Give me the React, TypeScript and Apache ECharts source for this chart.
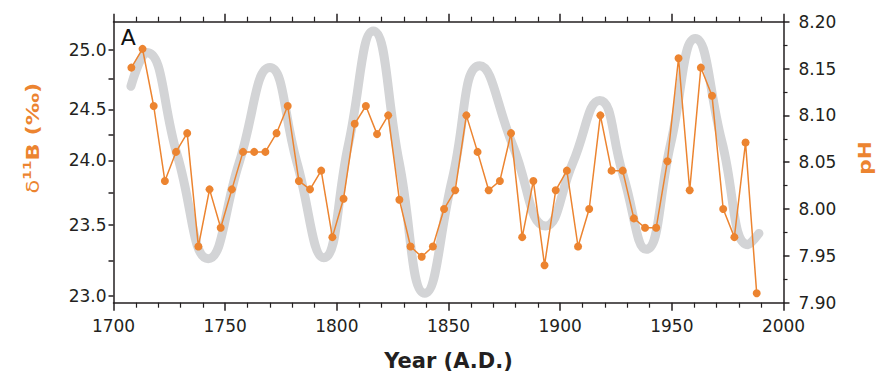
import React, { useEffect, useRef } from "react";
import * as echarts from "echarts";

// Orange record: sample years and pH (right axis) values
const years = [
  1708, 1713, 1718, 1723, 1728, 1733, 1738, 1743, 1748, 1753,
  1758, 1763, 1768, 1773, 1778, 1783, 1788, 1793, 1798, 1803,
  1808, 1813, 1818, 1823, 1828, 1833, 1838, 1843, 1848, 1853,
  1858, 1863, 1868, 1873, 1878, 1883, 1888, 1893, 1898, 1903,
  1908, 1913, 1918, 1923, 1928, 1933, 1938, 1943, 1948, 1953,
  1958, 1963, 1968, 1973, 1978, 1983, 1988,
];
const pHValues = [
  8.151, 8.171, 8.110, 8.030, 8.061, 8.081, 7.960, 8.021, 7.980, 8.021,
  8.061, 8.061, 8.061, 8.081, 8.110, 8.030, 8.021, 8.041, 7.970, 8.011,
  8.091, 8.110, 8.080, 8.100, 8.010, 7.960, 7.949, 7.960, 8.000, 8.020,
  8.100, 8.061, 8.020, 8.030, 8.081, 7.970, 8.030, 7.940, 8.020, 8.041,
  7.960, 8.000, 8.100, 8.041, 8.041, 7.990, 7.980, 7.980, 8.051, 8.161,
  8.020, 8.151, 8.121, 8.000, 7.970, 8.071, 7.910,
];

// Grey smoothed curve
const curveYears = [
  1707.8, 1714.8, 1728.6, 1742.4, 1756.2, 1770, 1782.1, 1794.2, 1805.2,
  1816.3, 1827.9, 1839.4, 1851.7, 1864, 1878.8, 1893.5, 1905.6, 1917.7,
  1928.1, 1938.5, 1949.5, 1960.5, 1972.4, 1984.2, 1989,
];
const curvePH = [
  8.131, 8.167, 8.057, 7.947, 8.049, 8.151, 8.05, 7.948, 8.069,
  8.19, 8.05, 7.91, 8.032, 8.153, 8.068, 7.982, 8.049, 8.116,
  8.037, 7.957, 8.07, 8.182, 8.072, 7.962, 7.974,
];

// Left (delta 11B) axis: labels and their positions on the pH scale
const d11BLabels = ["23.0", "23.5", "24.0", "24.5", "25.0"];
const d11BLabelPH = [7.9072, 7.9833, 8.052, 8.1065, 8.1698];
const d11BTickPH = [7.9072, 7.9445, 7.9833, 8.0174, 8.052, 8.079, 8.1065, 8.1396, 8.1698];

const INK = "#231f20";
const ORANGE = "#ec8430";
const GREY = "#d3d4d6";

export default function App() {
  const ref = useRef<HTMLDivElement>(null);

  useEffect(() => {
    if (!ref.current) return;
    const chart = echarts.init(ref.current, undefined, { renderer: "svg" });

    const axisLineStyle = { color: INK, width: 1.5 };
    const tickFont = { fontFamily: "DejaVu Sans", fontSize: 17, color: INK };

    const xBase = {
      type: "value" as const,
      min: 1700,
      max: 2000,
      interval: 50,
      splitLine: { show: false },
      minorSplitLine: { show: false },
      axisLine: { show: true, onZero: false, lineStyle: axisLineStyle },
      axisTick: { show: true, inside: false, length: 8, lineStyle: axisLineStyle },
      minorTick: { show: true, splitNumber: 5, length: 5, lineStyle: { color: INK, width: 1.2 } },
    };

    chart.setOption({
      animation: false,
      backgroundColor: "#ffffff",
      grid: { left: 113.5, right: 102.5, top: 21.7, bottom: 69.3, containLabel: false },
      xAxis: [
        {
          ...xBase,
          position: "bottom",
          axisLabel: { ...tickFont, margin: 15, formatter: (v: number) => String(v) },
        },
        {
          ...xBase,
          position: "top",
          axisLabel: { show: false },
        },
      ],
      yAxis: [
        {
          type: "value",
          position: "left",
          min: 7.9,
          max: 8.2,
          splitLine: { show: false },
          axisLine: { show: true, onZero: false, lineStyle: axisLineStyle },
          axisTick: { show: true, customValues: d11BTickPH, length: 5, lineStyle: axisLineStyle },
          axisLabel: {
            ...tickFont,
            margin: 7,
            customValues: d11BLabelPH,
            formatter: (v: number) => {
              let best = 0;
              for (let i = 1; i < d11BLabelPH.length; i++) {
                if (Math.abs(d11BLabelPH[i] - v) < Math.abs(d11BLabelPH[best] - v)) best = i;
              }
              return d11BLabels[best];
            },
          },
        },
        {
          type: "value",
          position: "right",
          min: 7.9,
          max: 8.2,
          interval: 0.05,
          splitLine: { show: false },
          minorSplitLine: { show: false },
          axisLine: { show: true, onZero: false, lineStyle: axisLineStyle },
          axisTick: { show: true, length: 6, lineStyle: axisLineStyle },
          minorTick: { show: true, splitNumber: 2, length: 4, lineStyle: { color: INK, width: 1.2 } },
          axisLabel: { ...tickFont, margin: 15, formatter: (v: number) => v.toFixed(2) },
        },
      ],
      series: [
        {
          type: "line",
          xAxisIndex: 0,
          yAxisIndex: 1,
          data: curveYears.map((y, i) => [y, curvePH[i]]),
          smooth: 0.5,
          showSymbol: false,
          symbol: "none",
          lineStyle: { color: GREY, width: 9, cap: "round", join: "round" },
          z: 1,
          silent: true,
        },
        {
          type: "line",
          xAxisIndex: 0,
          yAxisIndex: 1,
          data: years.map((y, i) => [y, pHValues[i]]),
          symbol: "circle",
          symbolSize: 8,
          showSymbol: true,
          itemStyle: { color: ORANGE },
          lineStyle: { color: ORANGE, width: 1.5 },
          z: 3,
        },
      ],
      graphic: [
        {
          type: "text",
          x: 128.3,
          y: 37,
          style: {
            text: "A",
            fontFamily: "DejaVu Sans",
            fontSize: 22,
            fill: "#111",
            align: "center",
            verticalAlign: "middle",
          },
        },
        {
          type: "text",
          x: 448.5,
          y: 361,
          style: {
            text: "Year (A.D.)",
            fontFamily: "DejaVu Sans",
            fontWeight: "bold",
            fontSize: 21,
            fill: INK,
            align: "center",
            verticalAlign: "middle",
          },
        },
        {
          type: "text",
          x: 33,
          y: 138,
          rotation: Math.PI / 2,
          scaleX: 1.25,
          style: {
            text: "{d|δ}{s|11}{b|B (‰)}",
            align: "center",
            verticalAlign: "middle",
            fill: ORANGE,
            rich: {
              d: { fontFamily: "DejaVu Sans", fontSize: 18, fill: ORANGE, color: ORANGE, lineHeight: 22 },
              s: { fontFamily: "DejaVu Sans", fontWeight: "bold", fontSize: 11, fill: ORANGE, color: ORANGE, verticalAlign: "top", lineHeight: 22 },
              b: { fontFamily: "DejaVu Sans", fontWeight: "bold", fontSize: 18, fill: ORANGE, color: ORANGE, lineHeight: 22 },
            },
          },
        },
        {
          type: "text",
          x: 865,
          y: 158,
          rotation: Math.PI / 2,
          scaleX: 1.2,
          style: {
            text: "pH",
            fontFamily: "DejaVu Sans",
            fontWeight: "bold",
            fontSize: 18,
            fill: ORANGE,
            align: "center",
            verticalAlign: "middle",
          },
        },
      ],
    });

    return () => chart.dispose();
  }, []);

  return (
    <div
      ref={ref}
      style={{ position: "fixed", left: 0, top: 0, width: 886, height: 372, background: "#fff" }}
    />
  );
}
